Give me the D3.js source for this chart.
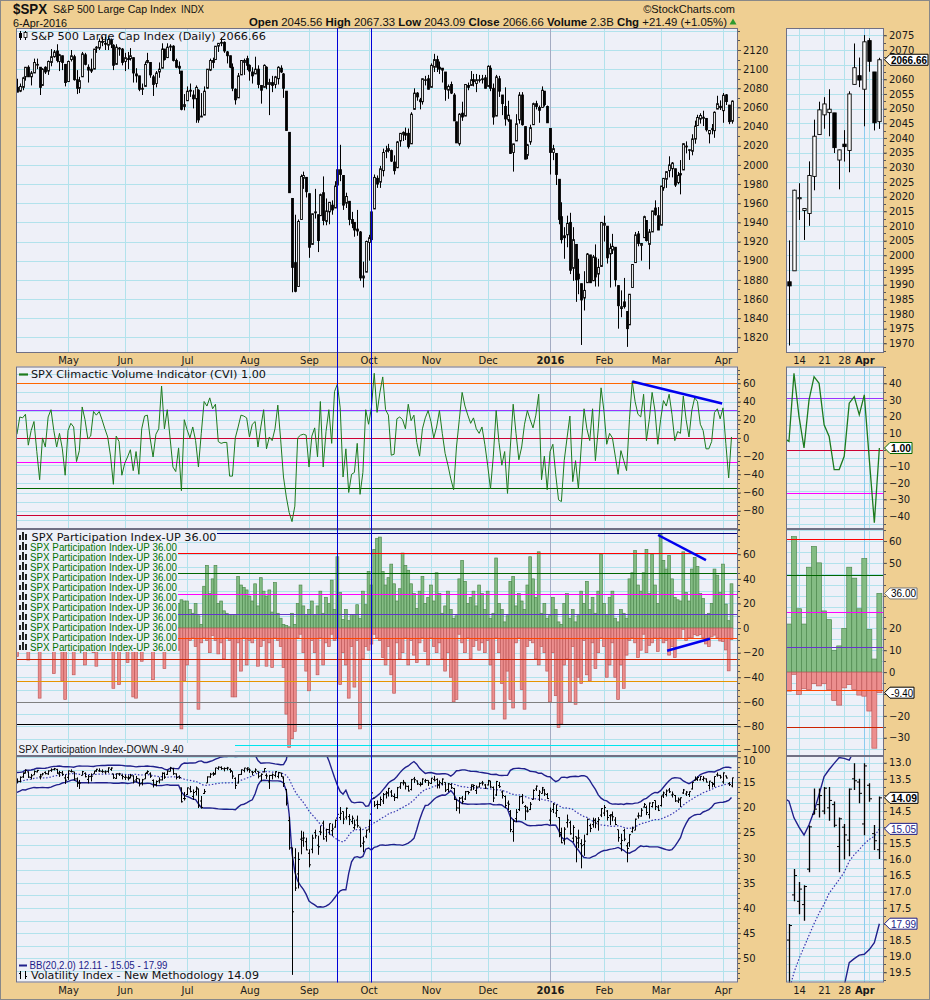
<!DOCTYPE html>
<html><head><meta charset="utf-8">
<script src="https://cdn.jsdelivr.net/npm/d3@7/dist/d3.min.js"></script>
<style>html,body{margin:0;padding:0;background:#efcf92}svg{display:block}</style>
</head><body>
<svg id="chart" width="930" height="1000"></svg>
<script>
// ---------- categories ----------
const firstDay = "2015-04-07", lastDay = "2016-04-06";
const holidays = ["2015-05-25","2015-07-03","2015-09-07","2015-11-26","2015-12-25","2016-01-01","2016-01-18","2016-02-15","2016-03-25"];
const monthNames = ["Jan","Feb","Mar","Apr","May","Jun","Jul","Aug","Sep","Oct","Nov","Dec"];
const miniTickDates = ["2016-03-14","2016-03-21","2016-03-28","2016-04-01"];
const miniTickLabels = ["14","21","28","Apr"];
const miniGridDates = ["2016-03-14","2016-03-21","2016-03-28","2016-04-01","2016-04-04"];

// ---------- S&P 500 daily OHLC ----------
const spxOpen = [2081,2077,2081,2092,2102,2092,2096,2105,2102,2083,2102,2098,2107,2113,2119,2108,2114,2105,
2087,2110,2113,2089,2080,2092,2115,2102,2100,2100,2122,2122,2129,2127,2125,2130,2125,2105,2122,2121,
2108,2111,2111,2112,2095,2093,2079,2082,2107,2107,2092,2085,2097,2101,2121,2112,2123,2124,2109,2103,2098,2061,
2067,2078,2073,2069,2078,2050,2052,2080,2099,2109,2110,2124,2127,2128,2118,2114,2102,2079,2070,2094,2107,2111,
2104,2097,2095,2100,2083,2081,2102,2084,2086,2084,2090,2101,2095,2077,2034,1965,1898,1873,1943,1986,1987,
1970,1917,1950,1948,1947,1971,1941,1951,1958,1955,1979,1995,1989,1960,1962,1943,1940,1933,1930,1882,1888,
1919,1922,1954,1986,1982,1994,2014,2015,2015,2003,1997,2025,2032,2033,2033,2022,2058,2075,2068,2066,2089,2090,
2081,2102,2110,2102,2101,2097,2078,2084,2073,2045,2022,2054,2051,2083,2083,2089,2085,2089,2089,2091,
2082,2101,2080,2051,2090,2073,2061,2047,2047,2013,2025,2047,2073,2040,2010,2024,2042,2064,2060,2060,2077,2061,
2038,2013,2012,1985,1946,1926,1927,1940,1892,1917,1886,1876,1861,1877,1906,1879,1903,1886,1894,
1937,1936,1907,1911,1914,1874,1850,1857,1847,1833,1872,1898,1928,1916,1924,1942,1917,1930,1955,1947,
1937,1976,1985,1994,1996,1996,1981.44,1990.97,1994.71,2019.27,2015.27,2014.24,2026.90,2041.16,2047.88,2048.64,2048.55,2032.48,2037.89,2035.75,2058.27,2061.23,
2056.62,2073.19,2062.50,2045.56];
const spxHigh = [2090,2085,2092,2102,2104,2098,2111,2111,2102,2101,2103,2109,2121,2120,2126,2116,2114,2105,
2109,2120,2115,2099,2092,2118,2117,2105,2111,2121,2124,2132,2134,2134,2134,2132,2126,2126,2123,2122,
2117,2118,2122,2112,2101,2093,2085,2108,2117,2107,2094,2098,2107,2127,2121,2127,2126,2125,2111,2108,2098,2074,
2082,2085,2078,2083,2079,2075,2082,2100,2111,2112,2124,2127,2133,2129,2119,2114,2106,2080,2096,2109,2111,2114,
2105,2102,2113,2104,2083,2105,2103,2090,2093,2093,2103,2104,2096,2077,2034,1965,1948,1943,1990,1993,1987,
1970,1949,1975,1948,1970,1988,1965,1961,1963,1983,1998,2021,1989,1971,1962,1951,1940,1953,1931,1899,1921,
1927,1951,1990,1989,1999,2017,2020,2022,2016,2010,2025,2033,2035,2039,2038,2055,2080,2076,2070,2090,2093,2094,
2106,2116,2114,2108,2101,2097,2084,2087,2075,2045,2054,2066,2084,2086,2098,2095,2095,2094,2094,2094,
2104,2104,2085,2094,2093,2073,2081,2067,2047,2022,2053,2076,2076,2040,2022,2042,2065,2067,2062,2082,2077,2062,
2038,2021,2012,1985,1961,1935,1947,1950,1935,1917,1902,1876,1889,1908,1906,1906,1917,1902,1940,
1947,1936,1918,1928,1914,1874,1869,1882,1847,1865,1896,1930,1931,1918,1947,1942,1933,1952,1963,1956,
1978,1986,1993,2009,2003,1996,1992.69,2005.08,2022.37,2024.57,2015.94,2032.02,2046.24,2052.36,2053.91,2056.60,2048.55,2036.04,2042.67,2055.91,2072.21,2067.41,
2075.07,2074.02,2062.50,2067.33];
const spxLow = [2076,2076,2078,2088,2092,2083,2096,2100,2073,2083,2095,2094,2103,2112,2107,2098,2099,2082,
2087,2108,2088,2074,2075,2092,2104,2086,2096,2100,2117,2120,2124,2120,2120,2122,2099,2105,2114,2104,
2098,2100,2109,2086,2086,2077,2073,2082,2106,2091,2072,2081,2091,2101,2109,2112,2119,2108,2101,2095,2057,2057,
2067,2071,2059,2044,2044,2050,2052,2080,2098,2101,2110,2118,2124,2117,2106,2101,2077,2063,2070,2094,2094,2099,
2088,2085,2095,2080,2064,2081,2079,2052,2076,2080,2084,2096,2070,2036,1971,1867,1867,1873,1943,1975,1966,
1903,1917,1944,1909,1947,1937,1937,1938,1948,1955,1979,1983,1953,1955,1937,1934,1925,1926,1879,1872,1888,
1900,1894,1954,1976,1976,1988,2007,2013,2003,1990,1997,2019,2025,2026,2017,2022,2058,2067,2058,2063,2083,2079,
2081,2097,2097,2095,2086,2067,2069,2074,2046,2023,2020,2046,2051,2078,2083,2082,2076,2086,2085,2080,
2082,2077,2042,2051,2071,2052,2041,2045,2012,1993,2025,2043,2041,2006,2006,2021,2042,2058,2044,2060,2061,2044,
1990,2005,1979,1938,1918,1902,1914,1886,1879,1857,1865,1812,1848,1877,1877,1879,1873,1873,1894,
1920,1897,1872,1907,1873,1829,1841,1850,1810,1833,1872,1898,1915,1900,1924,1920,1891,1930,1947,1932,
1937,1973,1976,1987,1987,1977,1979.84,1969.25,1994.71,2012.05,2005.23,2010.04,2022.16,2041.16,2043.14,2040.57,2034.86,2022.49,2031.96,2028.31,2058.27,2057.32,
2043.98,2062.57,2042.56,2043.09];
const spxClose = [2076,2082,2091,2102,2092,2096,2107,2105,2081,2100,2097,2108,2113,2118,2109,2115,2107,2086,
2108,2114,2089,2080,2088,2116,2105,2099,2098,2121,2123,2129,2128,2126,2131,2126,2104,2123,2121,2107,
2112,2110,2114,2096,2093,2079,2080,2105,2109,2094,2084,2096,2100,2121,2110,2123,2124,2109,2102,2101,2058,2063,
2077,2077,2069,2081,2047,2051,2077,2100,2109,2107,2124,2127,2128,2119,2114,2102,2080,2068,2093,2109,2109,2104,
2098,2093,2100,2084,2078,2104,2084,2086,2083,2092,2102,2097,2080,2036,1971,1893,1868,1941,1988,1989,1972,
1914,1949,1951,1921,1969,1942,1952,1961,1953,1978,1995,1990,1958,1967,1943,1939,1932,1931,1882,1884,1920,
1924,1951,1987,1980,1996,2013,2015,2017,2004,1994,2024,2033,2034,2031,2019,2053,2075,2071,2066,2090,2089,2079,
2104,2110,2102,2100,2099,2079,2082,2075,2046,2023,2053,2050,2084,2081,2089,2087,2089,2089,2090,2080,
2103,2080,2050,2092,2077,2064,2048,2052,2012,2022,2043,2073,2042,2006,2021,2039,2064,2061,2057,2078,2063,2044,
2013,2017,1990,1943,1922,1924,1939,1890,1922,1880,1881,1859,1869,1907,1877,1904,1883,1893,1940,
1939,1903,1913,1915,1880,1853,1852,1852,1829,1865,1896,1927,1918,1918,1946,1921,1930,1952,1948,1932,
1978,1986,1993,2000,2002,1979,1989.26,1989.57,2022.19,2019.64,2015.93,2027.22,2040.59,2049.58,2051.60,2049.80,2036.71,2035.94,2037.05,2055.01,2063.95,2059.74,
2072.78,2066.13,2045.17,2066.66];

// ---------- Climactic Volume Indicator ----------
const cviValues = [4,23,22,26,-8,8,18,-15,-46,0,-10,23,31,8,-10,5,-12,-41,8,16,
12,-26,-14,34,20,-1,2,29,25,29,20,10,1,-20,-51,2,-4,-41,-28,-21,
-13,-36,-15,-40,10,24,25,-1,-21,4,10,57,10,31,0,-32,-37,-11,-58,20,
9,0,12,-3,-32,5,40,35,44,32,37,-4,-6,-5,-5,-42,-42,0,12,25,
24,22,1,15,18,-10,12,31,-12,1,-3,10,36,-2,-43,-65,-82,-92,-75,0,
3,4,3,-32,2,11,-21,40,-32,7,31,-6,51,59,33,-43,-12,-60,-40,-38,
-6,-62,-38,31,15,33,71,28,50,67,31,25,-19,-18,21,23,
20,10,37,19,25,-5,-20,10,22,30,18,0,12,30,5,-17,-30,-45,-57,-10,
20,50,35,25,16,22,10,5,12,-7,-30,-56,-20,30,-5,-30,-15,-61,-10,37,
5,-24,-10,15,30,20,11,25,48,-46,-20,-57,-15,-7,-40,-68,-70,-25,0,24,
-48,-25,-56,-10,32,10,-3,32,-25,10,55,30,-7,5,0,-20,-40,-14,-25,-36,
20,62,40,26,23,48,-3,20,50,30,-7,20,41,35,48,26,-3,7,5,46,
20,1,30,44,40,15,8,-12,-12,-4,28,32,21,33,-6,-44,1];
const cviLevels = [60,31,0,-26,-55,-85];

// ---------- Participation Index ----------
const piUp = [20,25,32,18,14,28,22,15,8,22,26,30,18,22,14,9,25,12,
30,18,14,30,35,22,26,16,12,28,32,22,18,24,15,8,20,26,12,18,
25,20,14,10,18,30,28,22,15,12,20,26,32,18,24,28,15,10,22,
20,23,22,22,15,12,20,10,3,34,51,28,40,51,20,22,14,12,11,11,10,42,35,33,31,26,22,36,18,41,30,26,31,13,37,12,8,3,2,1,12,3,20,35,18,10,
15,22,10,18,30,12,25,20,39,15,58,29,7,15,6,11,10,19,8,30,19,
46,35,64,73,74,46,35,41,52,36,22,32,61,51,47,36,28,16,30,42,20,25,
35,22,45,28,12,18,30,15,8,10,40,55,38,20,25,30,18,35,28,15,
30,8,12,57,20,15,5,10,38,42,18,28,22,15,35,58,40,25,62,12,20,8,
10,25,15,5,3,20,28,8,15,5,10,30,20,38,15,25,12,30,60,
20,10,25,30,8,5,15,12,8,40,45,63,35,30,45,64,28,60,35,20,
76,55,48,59,40,25,
23,22,62,29,22,48,57.5,50,28,24,10,12,20,48,43,29,52,19.5,6,36];
const piDown = [-23,-12,-8,-10,-26,-10,-15,-5,-57,-12,-8,-14,-6,-37,-10,-15,-43,-58,
-10,-6,-38,-12,-8,-15,-30,-5,-10,-20,-31,-12,-8,-6,-15,-10,-49,-12,-46,-10,
-8,-28,-15,-56,-57,-12,-27,-8,-10,-15,-42,-12,-6,-10,-33,-8,-12,-15,-10,-18,-82,-43,
-30,-10,-8,-15,-66,-12,-8,-10,-20,-6,-10,-21,-12,-25,-8,-10,-56,-56,-12,-35,-8,-30,
-10,-12,-8,-31,-15,-10,-31,-12,-32,-8,-10,-15,-32,-70,-97,-90,-84,-8,-5,-20,-35,
-51,-10,-20,-38,-8,-30,-12,-15,-5,-10,-8,-46,-20,-30,-57,-15,-48,-10,-82,-25,-15,
-18,-13,-5,-8,-10,-24,-30,-15,-38,-53,-12,-25,-20,-8,-30,-10,-22,-28,-12,-8,-19,-30,
-8,-15,-20,-12,-25,-35,-20,-40,-60,-58,-5,-12,-20,-8,-25,-15,-10,-18,-12,-20,
-10,-30,-66,-8,-20,-45,-74,-35,-58,-65,-12,-8,-50,-66,-15,-10,-12,-25,-30,-15,-20,-35,
-60,-20,-55,-81,-78,-30,-25,-60,-15,-62,-40,-45,-10,-38,-43,-12,-33,-20,-8,
-15,-40,-30,-12,-40,-58,-30,-49,-22,-10,-8,-12,-24,-18,-5,-20,-14,-12,-8,-19,
-8,-12,-10,-22,-15,-24,
-8.7,-8.7,-1,-10.2,-7.6,-7.9,-5.3,-6.3,-5.3,-7.9,-12.9,-15.1,-7.2,-5.7,-7.9,-10.5,-11,-17.8,-34.8,-9.4];
const piLevels = [77.4,60.9,44.6,27.6,11.4,-8.1,-25.2,-42.8,-60.1,-78,-95.3];

// ---------- VIX daily OHLC ----------
const vixPrior = [16.69,16.87,15.42,16.00,15.61,15.66,13.97,14.27,13.02,13.41,13.62,15.44,15.80,15.07,14.51,15.29,15.11,14.67,14.74];
const vixOpen = [14.9,14.8,13.9,13.2,12.9,14.0,13.5,12.9,13.9,13.5,13.0,13.3,12.6,12.4,12.4,13.3,13.1,14.1,
14.0,12.8,12.9,14.3,15.1,13.6,13.2,14.4,13.8,13.3,12.7,12.7,12.8,12.9,12.8,12.4,13.3,14.2,13.3,13.6,
14.0,14.1,14.0,13.7,14.5,14.3,15.1,14.3,13.0,13.3,14.6,15.4,14.7,14.5,13.2,13.4,12.8,12.3,13.3,13.9,16.1,18.2,
17.4,16.3,17.8,16.8,16.3,18.7,17.2,15.1,13.9,13.3,13.4,12.2,12.0,12.3,12.2,12.4,12.8,14.2,15.1,13.4,12.6,12.3,
12.4,12.9,12.8,12.8,13.7,12.9,13.6,14.9,13.6,13.6,13.8,13.1,14.1,16.4,22.6,28.0,30.0,33.2,26.3,26.5,26.8,
29.1,28.3,25.0,27.5,24.8,23.1,25.8,24.4,24.6,23.9,22.1,22.0,20.8,21.9,21.8,22.8,24.0,22.5,23.9,27.1,25.7,
24.3,21.3,18.1,19.4,19.4,18.7,17.3,17.1,16.9,17.8,18.0,15.9,15.1,15.1,15.8,16.4,14.3,14.7,15.4,15.3,14.7,14.6,
15.2,14.4,14.4,15.5,15.2,15.0,16.4,15.4,16.2,18.4,20.1,18.1,18.3,16.8,16.5,15.8,16.6,15.9,15.1,15.5,
15.5,14.7,16.0,17.5,15.6,16.9,17.8,19.1,20.8,24.8,22.2,20.4,17.8,19.8,19.9,20.4,18.4,16.3,17.6,17.2,16.5,17.4,
22.5,20.4,21.1,22.0,25.4,26.6,23.0,23.0,26.1,25.8,26.1,27.2,27.4,25.3,23.6,23.4,22.6,22.8,21.5,
21.1,20.7,21.6,21.4,22.5,24.4,27.2,24.6,27.6,27.0,24.8,24.5,21.7,21.7,19.9,20.0,21.4,19.8,18.6,19.9,
19.6,17.5,17.4,16.5,17.5,17.6,18.7,18.5,17.1,17.3,17.4,16.3,14.6,14.3,14.5,14.4,14.3,15.6,15.0,15.4,13.5,13.6,
14.9,13.7,15.2,15.7];
const vixHigh = [15.2,15.0,14.1,13.2,14.1,14.4,13.5,13.0,14.4,13.6,13.4,13.5,12.9,12.6,13.3,13.9,13.7,15.3,
14.5,13.0,14.6,15.9,16.3,13.6,14.0,15.2,14.8,13.3,12.9,12.9,13.1,13.3,13.1,12.7,14.3,14.3,13.7,14.4,
14.5,14.6,14.2,15.2,15.0,15.8,15.6,14.3,13.3,14.1,16.0,15.8,15.2,14.6,14.3,13.5,12.8,13.5,14.4,14.3,19.0,18.6,
17.5,17.0,18.5,17.6,20.1,20.2,17.3,15.1,14.1,13.7,13.4,12.5,12.5,12.8,12.6,13.1,14.3,16.3,15.2,13.5,13.0,12.8,
13.1,13.6,13.1,14.2,14.8,13.0,14.3,16.3,14.4,14.0,14.2,13.9,15.9,19.6,28.4,53.3,36.6,36.1,29.3,27.8,28.5,
31.9,29.1,26.2,29.4,25.5,26.4,26.8,25.4,25.7,24.0,22.4,22.5,23.3,22.4,23.5,23.3,24.4,24.0,27.9,28.9,26.1,
25.0,23.6,19.9,20.3,19.7,19.3,18.2,17.8,17.9,18.7,18.2,16.3,15.6,16.4,16.8,16.6,15.1,15.5,15.8,15.5,15.1,15.7,
15.3,14.8,16.2,16.2,15.6,16.9,16.9,16.3,18.5,20.7,21.2,19.3,18.5,17.4,16.6,16.5,17.3,16.0,15.6,16.3,
15.6,16.1,18.9,17.7,16.1,18.2,20.1,20.5,24.9,26.8,22.9,20.7,19.3,22.5,21.0,20.5,18.4,16.7,18.7,17.2,17.7,18.3,
23.4,21.1,21.9,25.9,27.1,27.4,24.0,25.4,26.9,30.9,28.1,32.1,29.6,25.5,24.9,24.0,24.1,24.6,21.9,
21.7,22.6,23.5,22.7,23.5,26.8,28.7,26.7,30.9,27.8,25.0,24.5,22.2,21.8,20.0,21.5,22.2,20.0,20.5,20.7,
19.8,18.1,17.8,17.1,18.0,18.9,19.1,19.9,17.3,17.7,17.9,16.4,14.6,14.7,14.6,14.8,15.0,16.4,16.0,15.9,13.85,14.26,
15.25,14.21,15.71,15.99];
const vixLow = [14.2,13.8,13.0,12.4,12.8,13.3,12.6,12.5,13.3,13.1,12.8,12.6,12.2,12.1,12.3,12.7,12.7,13.4,
12.6,12.4,12.9,14.0,14.5,12.7,13.0,13.5,13.2,12.7,12.3,12.2,12.4,12.6,12.0,12.0,13.3,13.2,13.1,13.4,
13.5,13.6,13.3,13.6,13.7,14.3,14.3,13.1,12.6,13.0,14.4,14.6,14.0,13.0,13.0,12.6,11.9,12.1,13.2,13.6,16.0,16.9,
16.0,15.7,16.4,15.8,16.2,17.7,16.3,13.8,13.1,12.9,12.1,11.8,11.8,12.0,11.9,12.2,12.8,14.0,13.4,12.4,12.1,12.0,
12.2,12.7,12.2,12.8,13.2,12.2,13.2,13.5,13.2,12.8,12.9,13.1,13.8,16.3,21.8,28.0,28.1,28.9,24.6,24.8,26.0,
28.3,25.4,24.4,25.6,23.6,22.6,24.2,23.2,23.2,22.4,20.8,19.9,20.8,20.0,21.3,21.6,22.4,21.6,24.0,25.8,24.4,
22.4,17.0,18.7,18.6,17.8,17.1,16.7,16.1,16.5,17.2,15.9,15.0,14.5,15.0,15.6,14.3,13.9,14.6,14.9,14.2,14.3,14.6,
14.1,13.7,14.2,14.6,14.2,15.0,15.1,15.2,16.1,18.3,17.9,17.7,16.7,16.7,15.4,15.4,15.6,15.0,14.7,15.3,
14.5,14.7,15.8,14.7,14.9,16.6,17.6,18.6,20.5,22.3,20.3,17.7,17.3,19.5,19.9,18.9,16.4,15.6,16.5,15.9,16.3,17.1,
20.0,19.1,19.4,21.9,24.0,23.9,21.4,22.6,23.5,25.8,24.4,26.3,25.4,22.2,23.2,22.0,22.1,21.9,20.1,
19.5,20.5,21.3,20.8,21.9,24.4,25.2,24.2,27.0,25.3,23.8,22.2,21.0,20.1,19.1,19.6,19.0,18.9,18.6,19.5,
17.6,16.8,16.4,16.1,16.8,17.5,18.0,18.0,16.3,16.7,16.8,14.95,13.8,13.8,13.75,13.75,14.2,14.7,14.9,13.8,13.02,13.5,
13.02,13.64,14.93,14.05];
const vixClose = [14.78,13.98,13.09,12.58,13.94,13.67,12.84,12.60,13.89,13.30,13.25,12.72,12.48,12.29,13.12,13.03,13.39,14.55,
12.70,12.85,14.31,15.15,15.13,12.86,13.85,13.86,13.76,12.74,12.38,12.73,12.85,12.88,12.11,12.13,14.06,13.27,13.31,13.84,
13.97,14.24,13.66,14.71,14.21,15.29,14.47,13.22,12.85,13.78,15.39,14.81,14.50,13.19,13.96,12.74,12.11,13.26,14.01,14.02,18.85,18.23,
16.09,16.79,17.01,16.09,19.66,19.97,16.83,13.90,13.37,13.23,12.11,11.95,12.25,12.22,12.12,12.64,13.74,15.60,13.44,12.50,12.13,12.12,
12.56,13.00,12.51,13.77,13.39,12.23,13.71,13.61,13.49,12.83,13.02,13.79,15.25,19.14,28.03,40.74,36.02,30.32,26.10,26.05,28.43,
31.40,26.09,25.61,27.80,24.90,26.23,24.37,23.20,24.25,22.54,21.35,21.14,22.28,20.14,22.44,22.13,23.47,23.62,27.63,26.83,24.50,
22.55,17.08,19.54,19.40,18.40,17.42,17.08,16.17,17.67,18.03,16.05,15.05,14.98,15.75,16.70,14.45,14.46,15.29,15.43,14.33,14.61,15.07,
14.15,14.54,15.51,15.05,14.33,16.52,15.29,16.06,18.37,20.08,18.16,18.84,16.85,16.99,15.47,15.62,15.93,15.19,15.12,16.13,
14.67,15.91,18.11,14.81,15.84,17.60,19.61,19.34,24.39,22.73,20.95,17.86,18.94,20.70,20.70,19.34,16.60,15.74,16.91,16.08,17.29,18.21,
20.70,19.34,20.59,24.99,27.01,24.30,22.47,25.22,23.95,27.02,26.05,27.59,26.69,22.34,24.15,22.50,23.11,22.42,20.20,
19.98,21.98,21.65,21.84,23.38,26.00,26.54,26.29,28.14,25.40,24.11,22.31,21.64,20.53,19.38,20.98,19.11,19.03,19.81,20.55,
17.70,17.09,16.70,16.86,17.35,18.67,18.34,18.05,16.50,16.92,16.84,14.99,14.44,14.02,13.79,14.17,14.94,14.74,15.24,13.82,13.56,13.95,
13.10,14.12,15.42,14.09];

// ---------- annotations & labels ----------
const markerDates = ["2015-09-16","2015-10-02"];
const cviTrend = [[217,62],[248.7,37.8]];
const piTrendUp = [[226.1,75.7],[243,55.2]];
const piTrendDown = [[229.3,-18.4],[244.4,-8.7]];
const priceTicks = d3.range(1820,2121,20), priceTicksMini = d3.range(1970,2076,5);
const cviTicks = d3.range(-80,61,20), cviTicksMini = d3.range(-40,41,10);
const piTicks = d3.range(-100,61,20), piTicksMini = [-30,-20,-10,0,10,20,40,50,60];
const vixTicks = d3.range(10,51,5), vixTicksMini = d3.range(13,19.51,0.5);
const headerQuote = [["Open ",true],["2045.56 ",false],["High ",true],["2067.33 ",false],["Low ",true],["2043.09 ",false],["Close ",true],["2066.66 ",false],["Volume ",true],["2.3B ",false],["Chg ",true],["+21.49 (+1.05%)",false]];
const bbLabel = "BB(20,2.0) 12.11 - 15.05 - 17.99";

// ---------- build trading-day categories ----------
const dates = [];
{ let d = new Date(firstDay+"T00:00:00Z"); const end = new Date(lastDay+"T00:00:00Z");
  while (d <= end) { const s = d.toISOString().slice(0,10), w = d.getUTCDay();
    if (w!==0 && w!==6 && !holidays.includes(s)) dates.push(s);
    d = new Date(d.getTime()+86400000); } }
const idx = s => dates.indexOf(s);
const N = dates.length;

const svg = d3.select("#chart");
const BG="#efcf92", PBG="#eef0f8", GRID="#b2e2ec", BORDER="#707084", FF="DejaVu Sans", FA="Liberation Sans";
svg.append("rect").attr("width",930).attr("height",1000).attr("fill",BG);

const lens = [spxOpen,spxHigh,spxLow,spxClose,cviValues,piUp,piDown,vixOpen,vixHigh,vixLow,vixClose].map(a=>a.length);
if (lens.some(l=>l!==N)) svg.append("text").attr("x",300).attr("y",500).attr("fill","red").attr("font-size",14).text("LEN "+N+" : "+lens.join(","));

// scales
const xM = d3.scaleLinear().domain([18,249]).range([68,723]);
const xR = d3.scaleLinear().domain([236,249]).range([799,864.3]);
const L = {x0:16,x1:738}, R = {x0:786,x1:884};
const rows = {p:[28,353], c:[366.5,529], i:[529,756], v:[756,982.5]};
const yP = d3.scaleLinear().domain([1820,2120]).range([337.3,50]);
const yPm = d3.scaleLinear().domain([1970,2075]).range([343.3,35.3]);
const yC = d3.scaleLinear().domain([-80,60]).range([510.7,383.3]);
const yCm = d3.scaleLinear().domain([-40,40]).range([516,383.3]);
const yI = d3.scaleLinear().domain([-100,60]).range([751,554.3]);
const yIm = d3.scaleLinear().domain([-30,60]).range([737.7,541]);
const yV = d3.scaleLinear().domain([10,50]).range([757.3,958.3]);
const yVm = d3.scaleLinear().domain([13,19.5]).range([762.7,972.3]);

const N1 = N-1;
const bbAll = vixPrior.concat(vixClose);
const bb = vixClose.map((c,i)=>{ const w=bbAll.slice(i,i+20), m=d3.mean(w), sd=Math.sqrt(d3.mean(w,v=>(v-m)*(v-m))); return {m, u:m+2*sd, l:m-2*sd}; });
const flagsP = [yPm(spxClose[N1])], flagsC = [yCm(cviValues[N1])], flagsI = [yIm(piUp[N1]), yIm(piDown[N1])],
      flagsV = [yVm(vixClose[N1]), yVm(bb[N1].m), yVm(bb[N1].u)];

let clipN = 0;
function panel(box, row){
  const [y0,y1]=row, id="cp"+(clipN++);
  svg.append("rect").attr("x",box.x0).attr("y",y0).attr("width",box.x1-box.x0).attr("height",y1-y0).attr("fill",PBG);
  svg.append("clipPath").attr("id",id).append("rect").attr("x",box.x0).attr("y",y0).attr("width",box.x1-box.x0).attr("height",y1-y0);
  return svg.append("g").attr("clip-path",`url(#${id})`);
}
function hgrid(g, box, ys, step){
  const r=ys.range();
  const lo=ys.invert(Math.max(r[0],r[1])+400), hi=ys.invert(Math.min(r[0],r[1])-400);
  const vals=d3.range(Math.ceil(Math.min(lo,hi)/step)*step, Math.max(lo,hi), step);
  g.selectAll(null).data(vals).join("line").attr("x1",box.x0).attr("x2",box.x1)
   .attr("y1",v=>Math.round(ys(v))+0.5).attr("y2",v=>Math.round(ys(v))+0.5).attr("stroke",GRID).attr("stroke-width",1);
}
function vgrid(g, xs, list, row, colorFn){
  g.selectAll(null).data(list).join("line").attr("x1",i=>Math.round(xs(i))+0.5).attr("x2",i=>Math.round(xs(i))+0.5)
   .attr("y1",row[0]).attr("y2",row[1]).attr("stroke",colorFn).attr("stroke-width",1);
}
function refLines(g, box, ys, levels, colors){
  g.selectAll(null).data(levels).join("line").attr("x1",box.x0).attr("x2",box.x1)
   .attr("y1",v=>Math.round(ys(v))+0.5).attr("y2",v=>Math.round(ys(v))+0.5).attr("stroke",(v,k)=>colors[k]).attr("stroke-width",1.2);
}
function border(box,row){
  svg.append("rect").attr("x",box.x0+0.5).attr("y",row[0]+0.5).attr("width",box.x1-box.x0-1).attr("height",row[1]-row[0]-1)
    .attr("fill","none").attr("stroke",BORDER).attr("stroke-width",1);
}
function rightAxis(ys, x, vals, fmt, minorStep, row, flags, nudge){
  const shown = vals.filter(v=>!(flags||[]).some(f=>Math.abs(ys(v)-f)<9));
  const g = svg.append("g").attr("transform",`translate(${x},0)`)
    .call(d3.axisRight(ys).tickValues(shown).tickSize(3).tickPadding(2).tickFormat(fmt));
  g.select(".domain").remove();
  g.attr("font-family",FF).attr("font-size",10);
  g.selectAll("text").attr("fill","#1a1a1a");
  if (nudge) g.selectAll(".tick text").attr("y",v=>nudge[v]||0);
  g.selectAll("line").attr("stroke","#555");
  const [y0,y1]=row; const a=ys.invert(y0), b=ys.invert(y1);
  const mv=d3.range(Math.ceil(Math.min(a,b)/minorStep)*minorStep, Math.max(a,b), minorStep);
  g.selectAll(null).data(mv).join("line").attr("x1",0).attr("x2",2).attr("y1",v=>Math.round(ys(v))+0.5).attr("y2",v=>Math.round(ys(v))+0.5).attr("stroke","#555");
}

const monthStarts = dates.map((d,i)=>i).filter(i=>i>0 && dates[i].slice(5,7)!==dates[i-1].slice(5,7));
const monthLabel = i => dates[i].slice(5,7)==="01" ? dates[i].slice(0,4) : monthNames[+dates[i].slice(5,7)-1];
const miniTicks = miniTickDates.map(idx), miniGrid = miniGridDates.map(idx);
const vColor = i => dates[i].slice(5,7)==="01" ? "#a3abc2" : GRID;
const vColorMini = i => dates[i]==="2016-04-01" ? "#8ccbef" : GRID;
const allI = d3.range(N), miniI = d3.range(idx("2016-03-09"), N);

// ---------- PRICE ----------
function candles(g, xs, ys, bw, list){
  list.forEach(i=>{
    const o=spxOpen[i], c=spxClose[i], h=spxHigh[i], l=spxLow[i], x=Math.round(xs(i))+0.5;
    g.append("line").attr("x1",x).attr("x2",x).attr("y1",ys(Math.max(h,o,c))).attr("y2",ys(Math.min(l,o,c))).attr("stroke","#000");
    const t=ys(Math.max(o,c)), b=ys(Math.min(o,c));
    g.append("rect").attr("x",x-bw/2).attr("y",t).attr("width",bw).attr("height",Math.max(b-t,0.8))
      .attr("fill",c>=o?"#fff":"#000").attr("stroke","#000").attr("stroke-width",0.9);
  });
}
let g = panel(L, rows.p); hgrid(g,L,yP,20); vgrid(g,xM,monthStarts,rows.p,vColor); candles(g,xM,yP,1.8,allI);
g = panel(R, rows.p); hgrid(g,R,yPm,5); vgrid(g,xR,miniGrid,rows.p,vColorMini); candles(g,xR,yPm,3.4,miniI);

// ---------- CVI ----------
const cviColors = ["#ff6600","#9933ff","#cc0033","#ff00ff","#006600","#cc0033"];
function cviPanel(box, xs, ys, list, step){
  const g = panel(box, rows.c); hgrid(g,box,ys,step);
  vgrid(g,xs, box===L?monthStarts:miniGrid, rows.c, box===L?vColor:vColorMini);
  refLines(g,box,ys,cviLevels,cviColors);
  g.append("path").datum(list).attr("fill","none").attr("stroke","#1d7a1d").attr("stroke-width",box===L?1:1.3)
   .attr("d",d3.line().x(i=>xs(i)).y(i=>ys(cviValues[i])));
  return g;
}
g = cviPanel(L,xM,yC,allI,10);
g.append("line").attr("x1",xM(cviTrend[0][0])).attr("y1",yC(cviTrend[0][1])).attr("x2",xM(cviTrend[1][0])).attr("y2",yC(cviTrend[1][1])).attr("stroke","#0000ee").attr("stroke-width",2.5);
cviPanel(R,xR,yCm,miniI,5);

// ---------- PARTICIPATION INDEX ----------
const piColors = ["#000080","#ff0000","#006600","#ff00ff","#6633cc","#ff4400","#cc2200","#e69500","#808080","#000000","#00e5ee"];
function piPanel(box, xs, ys, list, step, bw){
  const g = panel(box, rows.i); hgrid(g,box,ys,step);
  vgrid(g,xs, box===L?monthStarts:miniGrid, rows.i, box===L?vColor:vColorMini);
  const y0 = ys(0);
  g.selectAll(null).data(list).join("rect").attr("x",i=>xs(i)-bw/2).attr("width",bw)
   .attr("y",i=>ys(piUp[i])).attr("height",i=>y0-ys(piUp[i])).attr("fill","#84bc84").attr("stroke","#4f8a4f").attr("stroke-width",0.7);
  g.selectAll(null).data(list).join("rect").attr("x",i=>xs(i)-bw/2).attr("width",bw)
   .attr("y",y0).attr("height",i=>ys(piDown[i])-y0).attr("fill","#ec8e8e").attr("stroke","#c05b5b").attr("stroke-width",0.7);
  refLines(g,box,ys,piLevels,piColors);
  return g;
}
g = piPanel(L,xM,yI,allI,10,2.835);
[piTrendUp,piTrendDown].forEach(t=>g.append("line").attr("x1",xM(t[0][0])).attr("y1",yI(t[0][1])).attr("x2",xM(t[1][0])).attr("y2",yI(t[1][1])).attr("stroke","#0000ee").attr("stroke-width",2.5));
piPanel(R,xR,yIm,miniI,5,4.98);

// ---------- VIX ----------
function vixPanel(box, xs, ys, list, step, tk){
  const g = panel(box, rows.v); hgrid(g,box,ys,step);
  vgrid(g,xs, box===L?monthStarts:miniGrid, rows.v, box===L?vColor:vColorMini);
  ["u","l"].forEach(k=>g.append("path").datum(list).attr("fill","none").attr("stroke","#20208c").attr("stroke-width",1.4)
     .attr("d",d3.line().x(i=>xs(i)).y(i=>ys(bb[i][k]))));
  g.append("path").datum(list).attr("fill","none").attr("stroke","#3636b0").attr("stroke-width",1.2).attr("stroke-dasharray","1.5,1.8")
     .attr("d",d3.line().x(i=>xs(i)).y(i=>ys(bb[i].m)));
  list.forEach(i=>{ const x=Math.round(xs(i))+0.5;
    g.append("line").attr("x1",x).attr("x2",x).attr("y1",ys(vixLow[i])).attr("y2",ys(vixHigh[i])).attr("stroke","#000").attr("stroke-width",box===L?1:1.3);
    g.append("line").attr("x1",x-tk).attr("x2",x).attr("y1",ys(vixOpen[i])).attr("y2",ys(vixOpen[i])).attr("stroke","#000");
    g.append("line").attr("x1",x).attr("x2",x+tk).attr("y1",ys(vixClose[i])).attr("y2",ys(vixClose[i])).attr("stroke","#000");
  });
  return g;
}
vixPanel(L,xM,yV,allI,2.5,1.5);
vixPanel(R,xR,yVm,miniI,0.25,2.5);

// ---------- legends inside panels ----------
function text(x,y,s,o={}){
  const t=svg.append("text").attr("x",x).attr("y",y).text(s).attr("font-family",o.ff||FF).attr("font-size",o.fs||10).attr("fill",o.fill||"#111");
  if(o.fw) t.attr("font-weight",o.fw); if(o.anchor) t.attr("text-anchor",o.anchor);
  if(o.tl) t.attr("textLength",o.tl).attr("lengthAdjust","spacingAndGlyphs");
  return t;
}
function barIcon(x,y,col){ [[0,5],[3,8],[6,6]].forEach(([dx,h])=>svg.append("rect").attr("x",x+dx).attr("y",y-h).attr("width",2).attr("height",h).attr("fill",col)); }
svg.append("line").attr("x1",20.5).attr("x2",20.5).attr("y1",31).attr("y2",40).attr("stroke","#000");
svg.append("rect").attr("x",19).attr("y",33).attr("width",3).attr("height",5).attr("fill","#000");
svg.append("line").attr("x1",25.5).attr("x2",25.5).attr("y1",31).attr("y2",40).attr("stroke","#000");
svg.append("rect").attr("x",24).attr("y",32.5).attr("width",3).attr("height",5).attr("fill","#fff").attr("stroke","#000").attr("stroke-width",0.8);
text(31,40,"S&P 500 Large Cap Index (Daily) "+spxClose[N1].toFixed(2),{tl:235});
svg.append("line").attr("x1",19).attr("x2",28).attr("y1",374.5).attr("y2",374.5).attr("stroke","#1d7a1d").attr("stroke-width",2.2);
text(31,378,"SPX Climactic Volume Indicator (CVI) "+cviValues[N1].toFixed(2),{tl:235});
svg.append("rect").attr("x",17).attr("y",529.5).attr("width",200).attr("height",12).attr("fill",PBG);
svg.append("rect").attr("x",17).attr("y",541.5).attr("width",161).attr("height",110.5).attr("fill",PBG);
const piLegend = "SPX Participation Index-UP "+piUp[N1].toFixed(2);
barIcon(19,540,"#222"); text(31.5,540.5,piLegend,{tl:185});
for(let k=1;k<12;k++){ barIcon(19,540+10*k,"#222"); text(30,540.5+10*k,piLegend,{ff:FA,fill:"#007000",tl:147}); }
svg.append("rect").attr("x",17).attr("y",743).attr("width",218).attr("height",12.5).attr("fill",PBG);
text(18.5,752.5,"SPX Participation Index-DOWN "+piDown[N1].toFixed(2),{ff:FA,tl:165});
svg.append("line").attr("x1",19).attr("x2",27).attr("y1",965.5).attr("y2",965.5).attr("stroke","#20208c").attr("stroke-width",2);
text(29.5,969,bbLabel,{ff:FA,fill:"#1c1c88",tl:138});
svg.append("line").attr("x1",20.5).attr("x2",20.5).attr("y1",971).attr("y2",979).attr("stroke","#000");
svg.append("line").attr("x1",25.5).attr("x2",25.5).attr("y1",971).attr("y2",979).attr("stroke","#000");
svg.append("line").attr("x1",19).attr("x2",20.5).attr("y1",973.5).attr("y2",973.5).attr("stroke","#000");
svg.append("line").attr("x1",25.5).attr("x2",27).attr("y1",976.5).attr("y2",976.5).attr("stroke","#000");
text(31,979,"Volatility Index - New Methodology "+vixClose[N1].toFixed(2),{tl:228});

// ---------- borders & axes ----------
Object.values(rows).forEach(r=>{ border(L,r); border(R,r); });
rightAxis(yP,738,priceTicks,d3.format("d"),10,rows.p);
rightAxis(yPm,884,priceTicksMini,d3.format("d"),2.5,rows.p,flagsP);
rightAxis(yC,738,cviTicks,d3.format("d"),5,rows.c);
rightAxis(yCm,884,cviTicksMini,d3.format("d"),5,rows.c,flagsC);
rightAxis(yI,738,piTicks,d3.format("d"),5,rows.i,null,{"-100":-2});
rightAxis(yIm,884,piTicksMini,d3.format("d"),5,rows.i,flagsI);
rightAxis(yV,738,vixTicks,d3.format("d"),1,rows.v,null,{"10":3});
rightAxis(yVm,884,vixTicksMini,d3.format(".1f"),0.25,rows.v,flagsV);

function dateAxis(xs, ticks, fmt, y, boldFn){
  const g = svg.append("g").attr("transform",`translate(0,${y})`).call(d3.axisBottom(xs).tickValues(ticks).tickSize(0).tickPadding(0).tickFormat(fmt));
  g.select(".domain").remove(); g.attr("font-family",FF).attr("font-size",10);
  g.selectAll("text").attr("fill","#1a1a1a").attr("font-weight",d=>boldFn(d)?"bold":"normal");
}
const isBoldMain = i => dates[i].slice(5,7)==="01";
const isBoldMini = i => dates[i]==="2016-04-01";
const miniFmt = i => miniTickLabels[miniTicks.indexOf(i)];
dateAxis(xM,monthStarts,monthLabel,357,isBoldMain);
dateAxis(xR,miniTicks,miniFmt,357,isBoldMini);
dateAxis(xM,monthStarts,monthLabel,987,isBoldMain);
dateAxis(xR,miniTicks,miniFmt,987,isBoldMini);

// ---------- blue date markers ----------
markerDates.map(idx).forEach(i=>{ const x=Math.round(xM(i))+0.5;
  svg.append("line").attr("x1",x).attr("x2",x).attr("y1",28).attr("y2",982.5).attr("stroke","#0000d8").attr("stroke-width",1); });

// ---------- value flags on mini axes ----------
function flag(y, s, stroke, o={}){
  const w = o.w||32;
  svg.append("path").attr("d",`M884.5,${y} L890,${y-5.5} L${890+w},${y-5.5} L${890+w},${y+5.5} L890,${y+5.5} Z`).attr("fill","#fff").attr("stroke",stroke).attr("stroke-width",1);
  text(891,y+4,s,{ff:FA,fs:11,fw:o.bold?"bold":"normal",fill:o.fill||"#000",tl:w-2});
}
flag(flagsP[0],spxClose[N1].toFixed(2),"#000",{bold:true,w:38});
flag(flagsC[0],cviValues[N1].toFixed(2),"#006600",{bold:true,w:22});
flag(flagsI[0],piUp[N1].toFixed(2),"#777",{w:27});
flag(flagsI[1],piDown[N1].toFixed(2),"#000",{w:24});
flag(flagsV[0],vixClose[N1].toFixed(2),"#000",{bold:true,w:28});
flag(flagsV[1],bb[N1].m.toFixed(2),"#1c1c88",{fill:"#1c1c88",w:27});
flag(flagsV[2],bb[N1].u.toFixed(2),"#1c1c88",{fill:"#1c1c88",w:27});

// ---------- header ----------
text(13,14,"$SPX",{ff:FA,fs:15,fw:"bold",tl:34});
text(53,13,"S&P 500 Large Cap Index",{ff:FA,fs:11,tl:123});
text(181,13,"INDX",{ff:FA,fs:11,tl:23});
text(735,13,"\u00a9StockCharts.com",{ff:FA,fs:11,anchor:"end"});
text(13,26.5,"6-Apr-2016",{ff:FA,fs:10.5,tl:54});
const hq = svg.append("text").attr("x",249).attr("y",26).attr("font-family",FA).attr("font-size",11).attr("fill","#111")
  .attr("textLength",478).attr("lengthAdjust","spacingAndGlyphs");
headerQuote.forEach(([s,b])=>hq.append("tspan").attr("font-weight",b?"bold":"normal").text(s));
svg.append("path").attr("d","M729.5,24.5 L736.5,24.5 L733,18.5 Z").attr("fill","#2e9a2e");
svg.append("rect").attr("x",0.5).attr("y",0.5).attr("width",929).attr("height",999).attr("fill","none").attr("stroke","#888");
</script>
</body></html>
